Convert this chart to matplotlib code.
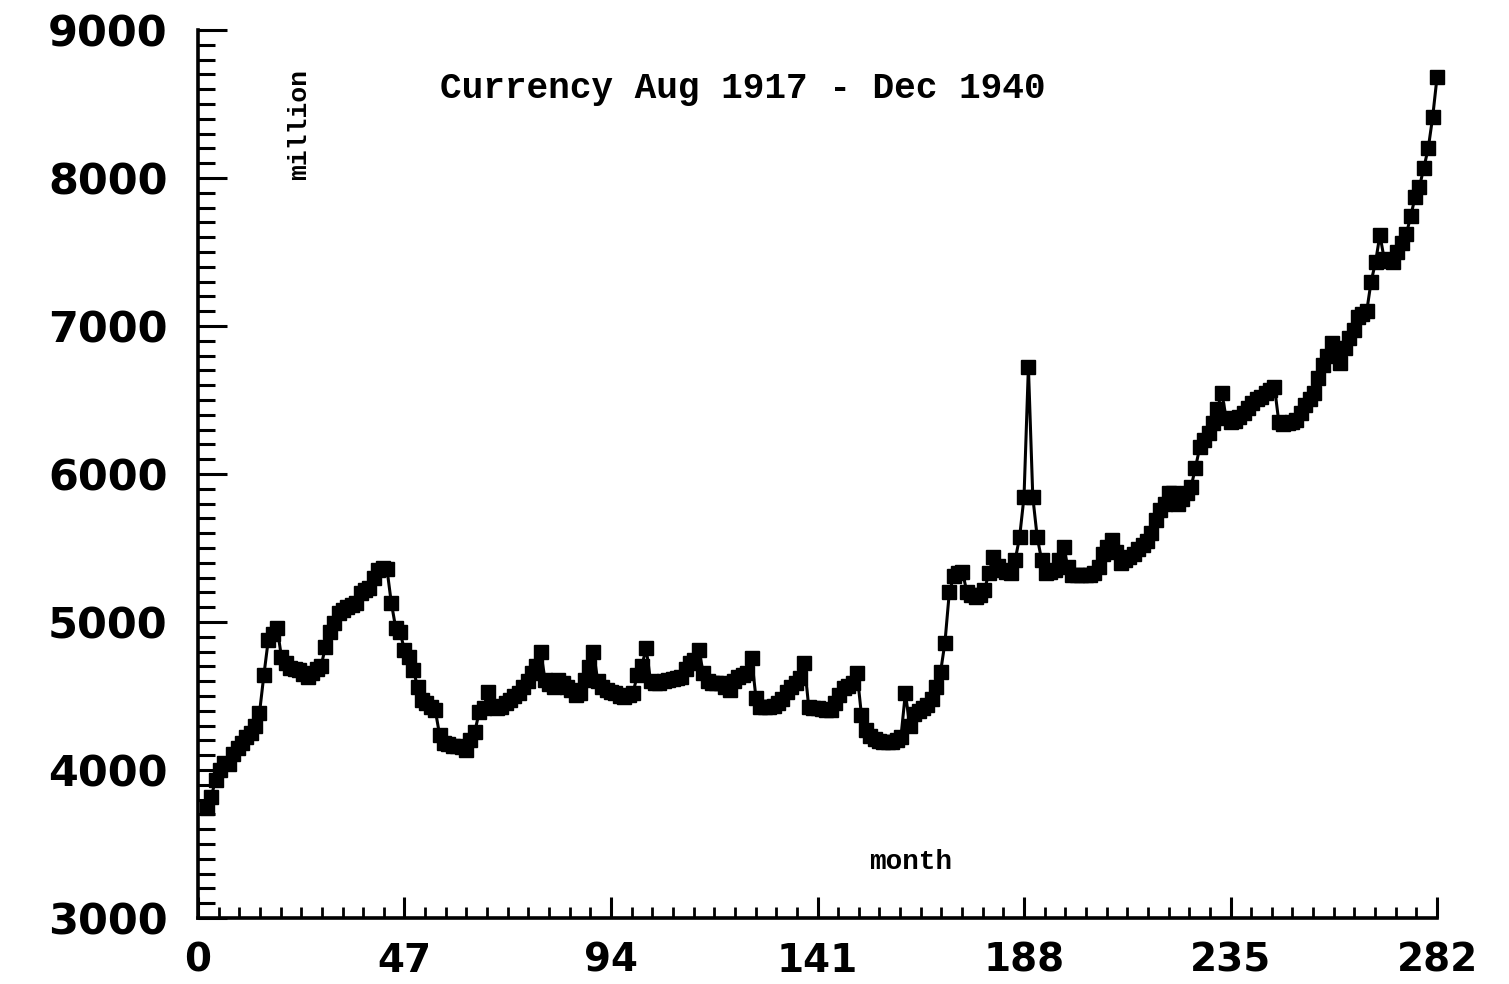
import matplotlib
matplotlib.use("Agg")
import matplotlib.pyplot as plt
import numpy as np
from matplotlib.ticker import MultipleLocator

# Monthly currency (million), Aug 1917 - Dec 1940
y1917 = [3740, 3820, 3930, 4000, 4050]
y1918 = [4040, 4110, 4150, 4180, 4220, 4250, 4300, 4385, 4642, 4878, 4920, 4960]
y1919 = [4764, 4720, 4690, 4680, 4675, 4650, 4628, 4655, 4680, 4700, 4831, 4932]
y1920 = [4993, 5060, 5080, 5100, 5115, 5128, 5196, 5215, 5230, 5300, 5351, 5365]
y1921 = [5360, 5130, 4960, 4930, 4811, 4764, 4676, 4561, 4473, 4450, 4426, 4405]
y1922 = [4236, 4182, 4175, 4165, 4160, 4155, 4135, 4200, 4257, 4392, 4419, 4527]
y1923 = [4430, 4420, 4426, 4450, 4473, 4500, 4520, 4560, 4600, 4655, 4700, 4797]
y1924 = [4608, 4580, 4561, 4608, 4590, 4560, 4540, 4507, 4520, 4608, 4696, 4797]
y1925 = [4600, 4560, 4541, 4530, 4520, 4500, 4493, 4510, 4520, 4642, 4700, 4824]
y1926 = [4600, 4588, 4590, 4600, 4608, 4615, 4620, 4628, 4680, 4723, 4740, 4811]
y1927 = [4655, 4600, 4588, 4588, 4588, 4560, 4541, 4600, 4628, 4640, 4655, 4757]
y1928 = [4486, 4426, 4426, 4426, 4430, 4453, 4480, 4527, 4560, 4588, 4620, 4723]
y1929 = [4426, 4420, 4419, 4410, 4405, 4405, 4450, 4507, 4554, 4570, 4588, 4655]
y1930 = [4372, 4270, 4230, 4210, 4195, 4190, 4190, 4190, 4200, 4225, 4520, 4300]
y1931 = [4380, 4400, 4420, 4440, 4480, 4560, 4660, 4860, 5200, 5310, 5330, 5340]
y1932 = [5200, 5180, 5170, 5180, 5216, 5330, 5440, 5380, 5350, 5340, 5330, 5420]
y1933 = [5574, 5845, 6723, 5845, 5574, 5420, 5330, 5340, 5350, 5420, 5507, 5370]
y1934 = [5320, 5320, 5320, 5320, 5320, 5330, 5370, 5460, 5510, 5554, 5470, 5400]
y1935 = [5420, 5440, 5460, 5490, 5520, 5550, 5600, 5690, 5760, 5800, 5870, 5870]
y1936 = [5800, 5830, 5870, 5910, 6040, 6180, 6230, 6280, 6345, 6440, 6550, 6380]
y1937 = [6350, 6360, 6385, 6410, 6446, 6480, 6510, 6520, 6550, 6570, 6590, 6350]
y1938 = [6340, 6345, 6350, 6365, 6410, 6466, 6510, 6550, 6649, 6736, 6800, 6885]
y1939 = [6820, 6750, 6850, 6920, 6970, 7060, 7080, 7100, 7300, 7430, 7615, 7450]
y1940 = [7440, 7430, 7500, 7560, 7620, 7740, 7870, 7940, 8070, 8200, 8410, 8680]

currency = (y1917 + y1918 + y1919 + y1920 + y1921 + y1922 + y1923 + y1924 +
            y1925 + y1926 + y1927 + y1928 + y1929 + y1930 + y1931 + y1932 +
            y1933 + y1934 + y1935 + y1936 + y1937 + y1938 + y1939 + y1940)
first_month_index = 2
month = np.arange(first_month_index, first_month_index + len(currency))

x_ticks = [0, 47, 94, 141, 188, 235, 282]
y_ticks = [3000, 4000, 5000, 6000, 7000, 8000, 9000]

title = "Currency Aug 1917 - Dec 1940"
ylabel = "million"
xlabel = "month"

fig = plt.figure(figsize=(15.09, 9.84), dpi=100)
ax = fig.add_axes([0.1312, 0.0671, 0.8211, 0.9024])

ax.plot(month, currency, color="black", lw=2.2, marker="s", ms=10,
        mfc="black", mec="black", clip_on=False, zorder=3)

ax.set_xlim(0, 282)
ax.set_ylim(3000, 9000)
ax.set_xticks(x_ticks)
ax.set_xticklabels([str(v) for v in x_ticks])
ax.set_yticks(y_ticks)
ax.set_yticklabels([str(v) for v in y_ticks])
ax.xaxis.set_minor_locator(MultipleLocator(4.7))
ax.yaxis.set_minor_locator(MultipleLocator(100))

for s in ["top", "right"]:
    ax.spines[s].set_visible(False)
for s in ["left", "bottom"]:
    ax.spines[s].set_linewidth(2.6)
    ax.spines[s].set_color("black")

ax.tick_params(axis="y", which="major", direction="in", length=21, width=2.2, pad=22)
ax.tick_params(axis="y", which="minor", direction="in", length=12, width=2.2)
ax.tick_params(axis="x", which="major", direction="in", length=15, width=2.2, pad=17)
ax.tick_params(axis="x", which="minor", direction="in", length=8, width=2.0)

for lab in ax.get_yticklabels():
    lab.set_fontfamily("DejaVu Sans")
    lab.set_fontweight("bold")
    lab.set_fontsize(31)
for lab in ax.get_xticklabels():
    lab.set_fontfamily("DejaVu Sans")
    lab.set_fontweight("bold")
    lab.set_fontsize(28)

fig.text(440 / 1509, 1 - 88 / 984, title, ha="left", va="center",
         family="Liberation Mono", fontweight="bold", fontsize=26)
fig.text(299 / 1509, 1 - 124 / 984, ylabel, ha="center", va="center", rotation=90,
         family="Liberation Mono", fontweight="bold", fontsize=19)
fig.text(911 / 1509, 1 - 862 / 984, xlabel, ha="center", va="center",
         family="Liberation Mono", fontweight="bold", fontsize=20)

fig.savefig("out.png", dpi=100, facecolor="white")
